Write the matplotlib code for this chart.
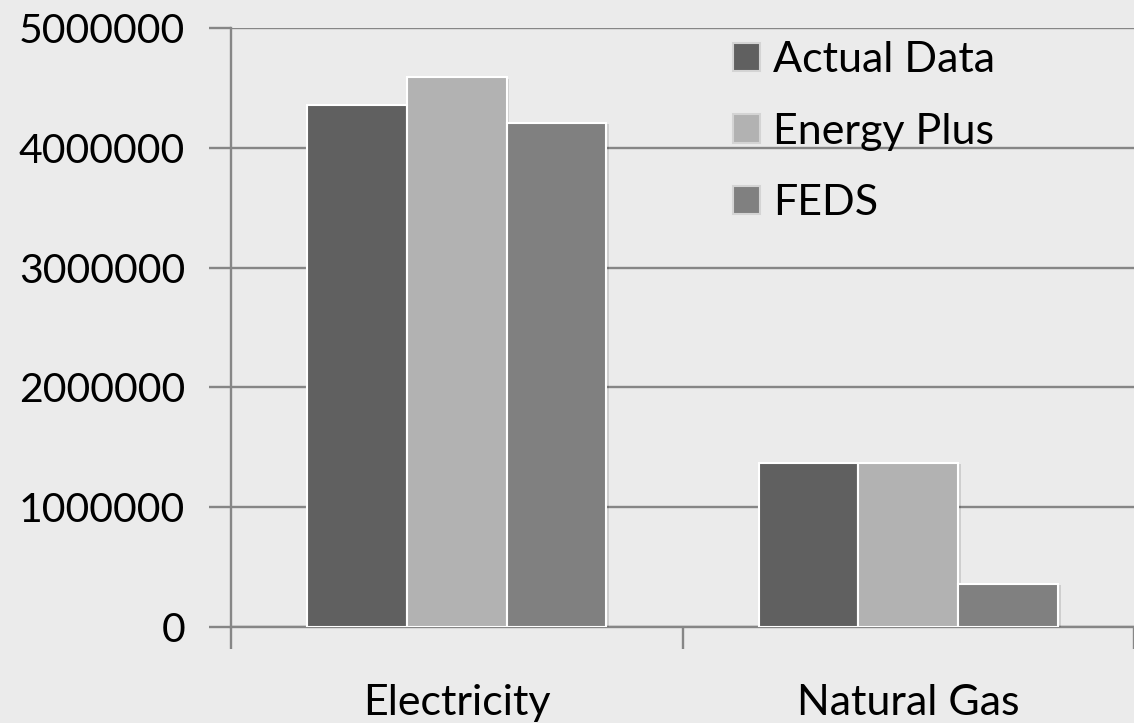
import numpy as np
import matplotlib
matplotlib.use("Agg")
import matplotlib.pyplot as plt
import matplotlib.patheffects as pe

# energy use by source, three estimates each
categories = ["Electricity", "Natural Gas"]
series_names = ["Actual Data", "Energy Plus", "FEDS"]
actual_data = [4360000, 1370000]
energy_plus = [4590000, 1370000]
feds = [4210000, 360000]
series_values = [actual_data, energy_plus, feds]
y_ticks = [0, 1000000, 2000000, 3000000, 4000000, 5000000]

colors = ["#606060", "#b2b2b2", "#808080"]
bg = "#ebebeb"
line_gray = "#868686"

plt.rcParams["font.family"] = ["Lato", "DejaVu Sans"]

fig = plt.figure(figsize=(11.34, 7.23), dpi=100, facecolor=bg)
ax = fig.add_axes([231 / 1134, 96 / 723, 903 / 1134, 599 / 723], facecolor=bg)

x = np.arange(len(categories))
width = 0.221
shadow = [pe.SimplePatchShadow(offset=(2, -1), shadow_rgbFace="#000000", alpha=0.12), pe.Normal()]
for i, (name, vals) in enumerate(zip(series_names, series_values)):
    ax.bar(x + (i - 1) * width, vals, width, color=colors[i], edgecolor="white",
           linewidth=1.5, label=name, zorder=3, path_effects=shadow)

ax.set_xlim(-0.5, 1.5)
ax.set_ylim(0, 5000000)
ax.set_yticks(y_ticks)
ax.set_yticklabels([str(v) for v in y_ticks])
ax.yaxis.grid(True, color=line_gray, linewidth=1.7, zorder=0)
ax.set_axisbelow(True)

ax.set_xticks(x)
ax.set_xticklabels(categories)
ax.set_xticks([-0.5, 0.5, 1.5], minor=True)
ax.tick_params(axis="x", which="major", length=0, pad=41, labelsize=31)
ax.tick_params(axis="x", which="minor", length=16, width=1.7, color=line_gray)
ax.tick_params(axis="y", length=16, width=1.7, color=line_gray, pad=17, labelsize=29.5)

for side in ["top", "right"]:
    ax.spines[side].set_visible(False)
for side in ["left", "bottom"]:
    ax.spines[side].set_color(line_gray)
    ax.spines[side].set_linewidth(1.7)

leg = ax.legend(loc="upper left", bbox_to_anchor=(733 / 1134, 1 - 41 / 723),
                bbox_transform=fig.transFigure, frameon=False, fontsize=31,
                handlelength=0.63, handleheight=0.63, handletextpad=0.3,
                labelspacing=0.78, borderpad=0, borderaxespad=0)
for h in leg.legend_handles:
    h.set_edgecolor("#d4d4d4")
    h.set_path_effects([])

fig.savefig("out.png", dpi=100, facecolor=bg)
